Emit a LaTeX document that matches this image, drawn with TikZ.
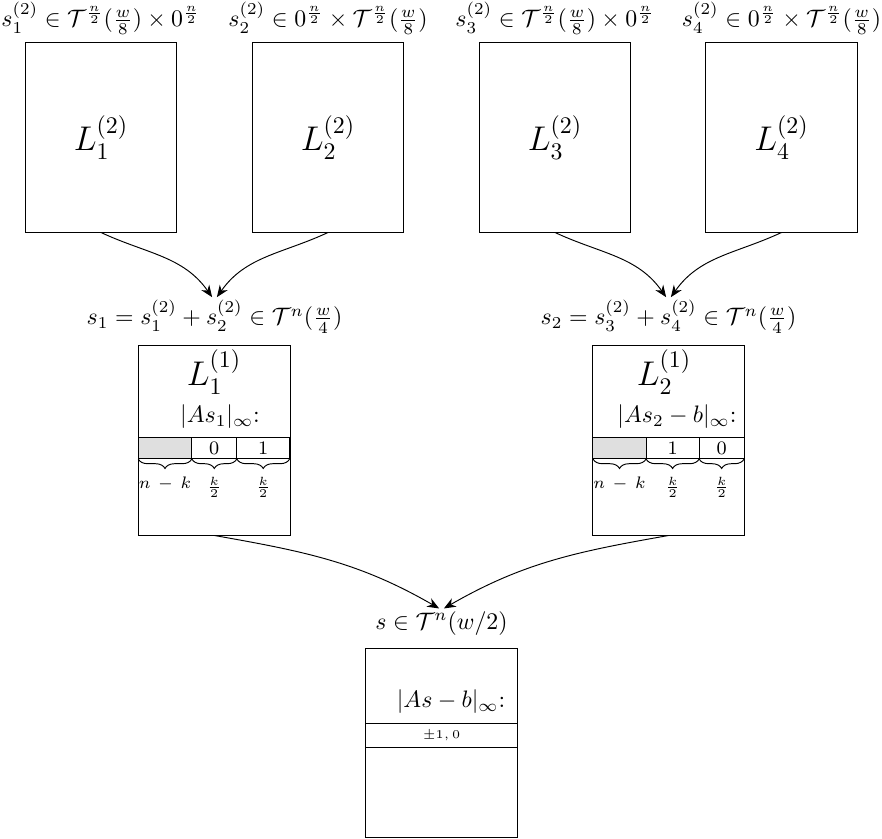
\documentclass[tikz,border=0pt]{standalone}
\usepackage{amsmath,amssymb}
\usetikzlibrary{positioning,decorations.pathreplacing,arrows.meta}

\begin{document}
\begin{tikzpicture}[x=0.42pt,y=-0.42pt,
        box/.style={draw, minimum width=63.8pt, minimum height=79.4pt, inner sep=0pt},
        cell/.style={draw, minimum height=9.2pt, inner sep=0pt, outer sep=0pt, font=\footnotesize},
        lbl/.style={inner sep=1pt},
        arr/.style={-{Stealth[length=5pt,width=4pt]}},
        brc/.style={decorate, decoration={brace, mirror, amplitude=4pt}}]
        \useasboundingbox (0,0) rectangle (882,838);

        % Level 2 lists
        \node[box] (b1) at (101,137.5) {\Large $L^{(2)}_1$};
        \node[box] (b2) at (328,137.5) {\Large $L^{(2)}_2$};
        \node[box] (b3) at (555,137.5) {\Large $L^{(2)}_3$};
        \node[box] (b4) at (781.5,137.5) {\Large $L^{(2)}_4$};
        \node[lbl, above=2pt of b1] (t1) {$s_1^{(2)} \in \mathcal{T}^{\frac{n}{2}}(\frac{w}{8}) \times 0^{\frac{n}{2}}$};
        \node[lbl, above=2pt of b2] (t2) {$s_2^{(2)} \in 0^{\frac{n}{2}} \times \mathcal{T}^{\frac{n}{2}}(\frac{w}{8})$};
        \node[lbl, above=2pt of b3] (t3) {$s_3^{(2)} \in \mathcal{T}^{\frac{n}{2}}(\frac{w}{8}) \times 0^{\frac{n}{2}}$};
        \node[lbl, above=2pt of b4] (t4) {$s_4^{(2)} \in 0^{\frac{n}{2}} \times \mathcal{T}^{\frac{n}{2}}(\frac{w}{8})$};

        % Level 1 lists
        \node[box] (c1) at (214.5,440.5) {};
        \node[box] (c2) at (668.5,440.5) {};
        \node[lbl, above=4pt of c1] (m1) {$s_1 = s_1^{(2)} + s_2^{(2)} \in \mathcal{T}^n(\frac{w}{4})$};
        \node[lbl, above=4pt of c2] (m2) {$s_2 = s_3^{(2)} + s_4^{(2)} \in \mathcal{T}^n(\frac{w}{4})$};
        \node (L1) at (214,372) {\Large $L^{(1)}_1$};
        \node (L2) at (664,372) {\Large $L^{(1)}_2$};
        \node (n1) at (220,417) {$|As_1|_{\infty}$:};
        \node (n2) at (677,417) {$|As_2 - b|_{\infty}$:};

        % Coordinates of c1
        \node[cell, minimum width=22.5pt, fill=gray!25] (g1) at (165,448) {};
        \node[cell, minimum width=18.9pt, right=0pt of g1] (z1) {0};
        \node[cell, minimum width=22.2pt, right=0pt of z1] (o1) {1};
        \draw[brc] (g1.south west) -- (g1.south east) node[midway, below=4pt] (k1) {\scriptsize $n \,-\, k$};
        \draw[brc] (z1.south west) -- (z1.south east) node[midway, below=4pt] (h1) {\scriptsize $\frac{k}{2}$};
        \draw[brc] (o1.south west) -- (o1.south east) node[midway, below=4pt] (h2) {\scriptsize $\frac{k}{2}$};

        % Coordinates of c2
        \node[cell, minimum width=22.3pt, fill=gray!25] (g2) at (619.5,448) {};
        \node[cell, minimum width=22.3pt, right=0pt of g2] (o2) {1};
        \node[cell, minimum width=18.9pt, right=0pt of o2] (z2) {0};
        \draw[brc] (g2.south west) -- (g2.south east) node[midway, below=4pt] (k2) {\scriptsize $n \,-\, k$};
        \draw[brc] (o2.south west) -- (o2.south east) node[midway, below=4pt] (h3) {\scriptsize $\frac{k}{2}$};
        \draw[brc] (z2.south west) -- (z2.south east) node[midway, below=4pt] (h4) {\scriptsize $\frac{k}{2}$};

        % Final list
        \node[box] (d) at (441.5,742.5) {};
        \node[lbl, above=4pt of d] (f) {$s \in \mathcal{T}^n(w/2)$};
        \node (n3) at (451,702) {$|As - b|_{\infty}$:};
        \node[cell, minimum width=63.8pt, minimum height=9.7pt, font=\tiny] (r) at (441.5,735.5) {$\pm 1, 0$};

        % Merges
        \draw[arr] (b1.south) to[out=-25,in=125] ([xshift=-1pt]m1.north);
        \draw[arr] (b2.south) to[out=-155,in=55] ([xshift=1pt]m1.north);
        \draw[arr] (b3.south) to[out=-25,in=125] ([xshift=-1pt]m2.north);
        \draw[arr] (b4.south) to[out=-155,in=55] ([xshift=1pt]m2.north);
        \draw[arr] (c1.south) to[out=-10,in=150] ([xshift=-1pt]f.north);
        \draw[arr] (c2.south) to[out=-170,in=30] ([xshift=1pt]f.north);
    \end{tikzpicture}
\end{document}
